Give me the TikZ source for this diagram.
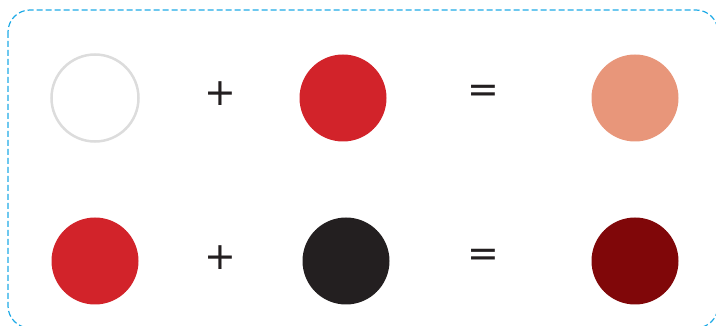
\documentclass[tikz,border=0pt]{standalone}
\usepackage{fontspec}
\usepackage{xcolor}
\usepackage{tikz}
\usetikzlibrary{positioning}
\newfontfamily\signfont{DejaVu Sans}
\definecolor{cframe}{RGB}{30,170,230}
\definecolor{cring}{RGB}{220,220,220}
\definecolor{cred}{RGB}{210,35,42}
\definecolor{csalmon}{RGB}{232,150,122}
\definecolor{cblack}{RGB}{35,31,32}
\definecolor{cdarkred}{RGB}{128,7,9}

\begin{document}
\begin{tikzpicture}[
    x=1pt, y=-1pt,
    dot/.style={circle, minimum size=87pt, inner sep=0pt},
    sign/.style={font=\signfont\fontsize{38}{38}\selectfont, text=cblack, inner sep=0pt},
]
    \useasboundingbox (0,0) rectangle (716,326);

    % Frame
    \draw[cframe, line width=1.2pt, dash pattern=on 6pt off 3pt, rounded corners=22pt]
        (8,10) rectangle (718,328);

    % White + red = light red
    \node[dot, draw=cring, line width=2.5pt] (white) at (95,98) {};
    \node[sign] (plusa) at (220,94) {+};
    \node[dot, fill=cred] (reda) at (343,98) {};
    \node[sign] (eqa) at (483,94) {=};
    \node[dot, fill=csalmon] (tint) at (635,98) {};

    % Red + black = dark red
    \node[dot, fill=cred] (redb) at (95,261) {};
    \node[sign] (plusb) at (220,258) {+};
    \node[dot, fill=cblack] (black) at (346,261) {};
    \node[sign] (eqb) at (483,258) {=};
    \node[dot, fill=cdarkred] (shade) at (635,261) {};
\end{tikzpicture}
\end{document}
